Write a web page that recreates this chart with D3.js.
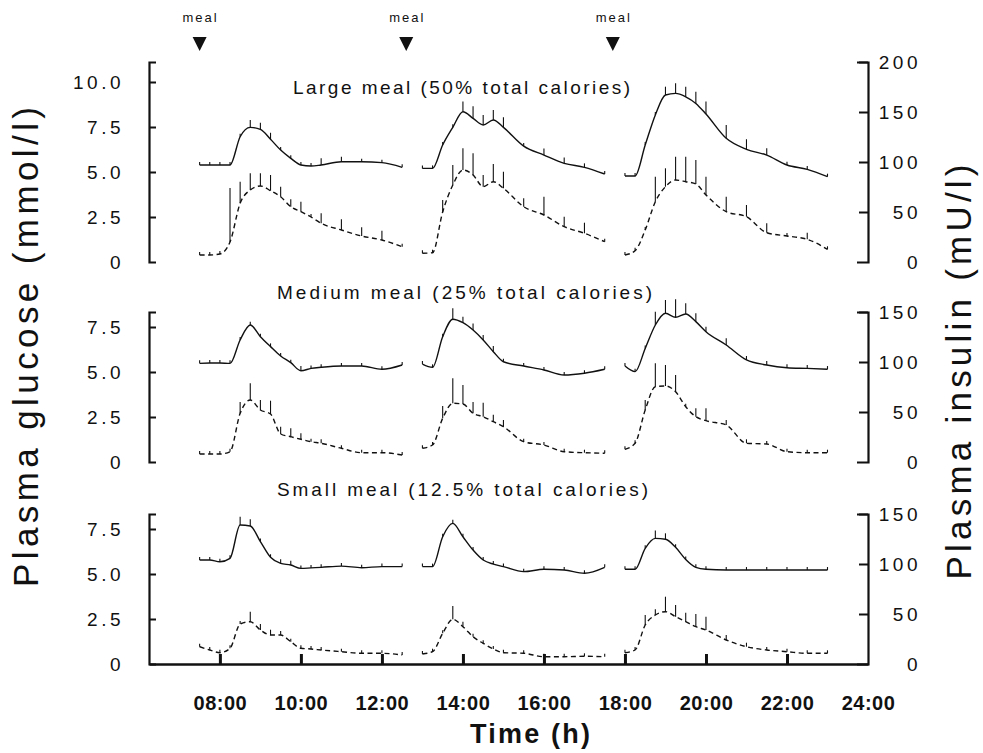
<!DOCTYPE html>
<html>
<head>
<meta charset="utf-8">
<script src="https://cdn.jsdelivr.net/npm/d3@7"></script>
<style>
  html, body { margin: 0; padding: 0; background: #fff; }
  svg { display: block; }
</style>
</head>
<body>
<svg id="chart" width="983" height="753"></svg>
<script>
// sampling times (h) of the three post-meal profiles
const times1 = [7.5, 7.75, 8, 8.25, 8.5, 8.75, 9, 9.25, 9.5, 9.75, 10, 10.25, 10.5, 11, 11.5, 12, 12.5];
const times2 = [13, 13.25, 13.5, 13.75, 14, 14.25, 14.5, 14.75, 15, 15.5, 16, 16.5, 17, 17.5];
const times3 = [18, 18.25, 18.5, 18.75, 19, 19.25, 19.5, 19.75, 20, 20.5, 21, 21.5, 22, 22.5, 23];

const mealTimes = [7.5, 12.6, 17.7];
const hourTicks = [8, 10, 12, 14, 16, 18, 20, 22, 24];

const panelTitles = [
  'Large meal (50% total calories)',
  'Medium meal (25% total calories)',
  'Small meal (12.5% total calories)'
];
const glucoseTicks = [[0, 2.5, 5, 7.5, 10], [0, 2.5, 5, 7.5], [0, 2.5, 5, 7.5]];
const insulinTicks = [[0, 50, 100, 150, 200], [0, 50, 100, 150], [0, 50, 100, 150]];

// plasma glucose (mmol/l), one array per meal, and the SEM bars (drawn upward)
const largeGlucose = [
  [5.39, 5.39, 5.39, 5.39, 6.96, 7.48, 7.37, 6.82, 6.22, 5.76, 5.39, 5.33, 5.39, 5.57, 5.57, 5.52, 5.26],
  [5.2, 5.2, 6.5, 7.48, 8.35, 7.98, 7.61, 7.89, 7.48, 6.44, 5.94, 5.48, 5.26, 4.89],
  [4.78, 4.78, 6.5, 8.17, 9.28, 9.37, 9.18, 8.81, 8.22, 6.87, 6.26, 5.94, 5.39, 5.15, 4.74]
];
const largeGlucoseSem = [
  [0, 0.05, 0.05, 0, 0.15, 0.41, 0.37, 0.36, 0.13, 0.09, 0.05, 0, 0.37, 0.28, 0.05, 0.05, 0],
  [0, 0, 0.1, 0.1, 0.56, 0.67, 0.56, 0.55, 0.56, 0.1, 0.37, 0.33, 0.22, 0],
  [0, 0, 0.1, 0.1, 0.46, 0.56, 0.56, 0.65, 0.69, 0.74, 0.56, 0.38, 0.18, 0.18, 0]
];
const mediumGlucose = [
  [5.48, 5.5, 5.5, 5.48, 6.78, 7.61, 6.96, 6.41, 5.89, 5.52, 5.07, 5.2, 5.26, 5.33, 5.33, 5.15, 5.39],
  [5.44, 5.26, 6.96, 7.93, 7.74, 7.33, 6.78, 6.13, 5.57, 5.33, 5.11, 4.83, 4.93, 5.15],
  [5.33, 5.02, 6.31, 7.61, 8.26, 8.04, 8.22, 7.8, 7.24, 6.5, 5.67, 5.39, 5.24, 5.2, 5.15]
];
const mediumGlucoseSem = [
  [0.05, 0.05, 0.05, 0, 0.1, 0.18, 0.05, 0.18, 0.11, 0.15, 0.26, 0.05, 0.13, 0.05, 0.05, 0, 0],
  [0, 0, 0.1, 0.61, 0.33, 0.37, 0.28, 0.31, 0, 0.05, 0.05, 0, 0.05, 0],
  [0, 0, 0.15, 0.74, 0.74, 1.0, 0.6, 0.46, 0.28, 0.37, 0.22, 0.22, 0.19, 0.19, 0.18]
];
const smallGlucose = [
  [5.78, 5.78, 5.68, 5.87, 7.72, 7.67, 6.8, 5.93, 5.59, 5.5, 5.31, 5.34, 5.37, 5.44, 5.35, 5.41, 5.41],
  [5.41, 5.41, 7.07, 7.81, 7.07, 6.33, 5.78, 5.55, 5.41, 5.13, 5.26, 5.22, 5.04, 5.37],
  [5.26, 5.26, 6.43, 6.98, 6.93, 6.48, 5.81, 5.37, 5.26, 5.22, 5.22, 5.22, 5.22, 5.22, 5.22]
];
const smallGlucoseSem = [
  [0, 0.05, 0.05, 0.05, 0.46, 0.37, 0.1, 0.1, 0.23, 0.24, 0, 0, 0.05, 0.05, 0.05, 0.05, 0],
  [0, 0, 0.1, 0.2, 0.05, 0.05, 0.05, 0, 0, 0.05, 0.05, 0.05, 0, 0],
  [0, 0, 0.15, 0.43, 0.33, 0.1, 0, 0, 0.05, 0.05, 0.05, 0.05, 0.05, 0.05, 0]
];

// plasma insulin (mU/l)
const largeInsulin = [
  [7, 7, 8, 20, 58.7, 72, 76, 71.3, 65.3, 55.3, 50.3, 45, 38.7, 32, 26, 22, 15.3],
  [8.7, 9.3, 50, 77, 92, 87, 75.3, 80.3, 73.7, 55.3, 47, 35.3, 28.7, 20.3],
  [7, 11.3, 32, 60.3, 75.3, 82, 80.3, 78, 67, 50.3, 45.3, 29.3, 26, 22.7, 12.7]
];
const largeInsulinSem = [
  [0, 0, 0, 54, 21.6, 16.7, 12.7, 15.7, 10, 7.4, 10, 0, 10, 10.7, 8.7, 9.3, 0],
  [0, 0, 12, 20, 21.7, 21.7, 11.7, 17.7, 16.6, 8.4, 18.3, 10, 10.6, 0],
  [0, 0, 0, 25, 18.4, 23.3, 25, 24, 18.3, 15, 11.7, 9.4, 0, 6.6, 0]
];
const mediumInsulin = [
  [8, 8, 8, 10.3, 48.7, 62, 52, 48, 28, 25.3, 22.7, 20.3, 18.7, 13.7, 9.3, 9.3, 7],
  [13.7, 17, 43.7, 58.7, 58, 48.7, 45.3, 40.3, 35.3, 20.3, 17, 10.3, 9.3, 8.7],
  [12.7, 18.7, 52, 75.3, 76, 70.3, 55.3, 45.3, 41.3, 37, 18.7, 18, 10.3, 9.3, 9.3]
];
const mediumInsulinSem = [
  [0, 0, 0, 0, 11.3, 16.7, 10, 13.3, 7.3, 8.4, 6, 0, 4, 0, 0, 0, 0],
  [0, 0, 12.3, 25, 19, 11.3, 14, 7, 6.7, 0, 2, 0, 0, 0],
  [0, 0, 10, 23.4, 21, 16.7, 0, 8.4, 12.4, 5, 4, 0, 0, 0, 0]
];
const smallInsulin = [
  [17.3, 14, 11.3, 15.7, 40, 42.3, 34, 29, 29, 22.3, 15.7, 15, 14, 12.3, 10.7, 10.7, 9],
  [10, 12.3, 30.7, 44.7, 37.3, 27.3, 20.7, 15, 11.3, 10.7, 7.3, 7.3, 7.7, 7.3],
  [11.3, 14, 39, 49, 52.3, 47.3, 42.3, 37.3, 34, 24, 17.3, 14, 12.3, 10.7, 10.7]
];
const smallInsulinSem = [
  [0, 0, 0, 0, 3, 10, 6, 5.3, 4, 0, 0, 0, 0, 0, 0, 2, 0],
  [0, 0, 0, 13.3, 5, 0, 0, 0, 0, 0, 2, 0, 0, 0],
  [0, 0, 10, 5.7, 15, 11.7, 9, 12.7, 13.3, 5, 4, 3, 0, 0, 0]
];

const segmentTimes = [times1, times2, times3];
const glucoseSets = [largeGlucose, mediumGlucose, smallGlucose];
const glucoseSemSets = [largeGlucoseSem, mediumGlucoseSem, smallGlucoseSem];
const insulinSets = [largeInsulin, mediumInsulin, smallInsulin];
const insulinSemSets = [largeInsulinSem, mediumInsulinSem, smallInsulinSem];

// layout
const panelBottoms = [262, 462, 664];
const pxPerInsulin = 1.0;   // px per mU/l
const pxPerGlucose = 18;    // px per mmol/l
const leftX = 149, rightX = 868;
const titleBox = [[461.5, 94, 337], [464.5, 299, 375], [462.5, 496, 371]];
const ink = '#111';
const labelFont = '"Liberation Sans", Arial, sans-serif';

const svg = d3.select('#chart');

const x = d3.scaleLinear().domain([6.25, 24]).range([leftX, rightX]);

const line = d3.line()
  .curve(d3.curveMonotoneX)
  .x(d => x(d.t))
  .y(d => d.y);

// one profile: error bars, small point ticks and the curve
function drawProfile(g, pts, yScale, dashed) {
  g.selectAll(null)
    .data(pts)
    .enter().append('line')
    .attr('x1', d => x(d.t)).attr('x2', d => x(d.t))
    .attr('y1', d => yScale(d.v))
    .attr('y2', d => Math.min(yScale(d.v + d.e), yScale(d.v) - 3))
    .attr('stroke', ink).attr('stroke-width', 1.1);
  const path = g.append('path')
    .attr('d', line(pts.map(d => ({ t: d.t, y: yScale(d.v) }))))
    .attr('fill', 'none').attr('stroke', ink).attr('stroke-width', 1.4);
  if (dashed) path.attr('stroke-dasharray', '5,3.5');
}

panelTitles.forEach((title, p) => {
  const bottom = panelBottoms[p];
  const insMax = d3.max(insulinTicks[p]);
  const height = insMax * pxPerInsulin;
  const yIns = d3.scaleLinear().domain([0, insMax]).range([bottom, bottom - height]);
  const yGlu = d3.scaleLinear().domain([0, height / pxPerGlucose]).range([bottom, bottom - height]);

  const g = svg.append('g').attr('class', 'panel');

  // left (glucose) bracket axis
  const leftAxis = d3.axisLeft(yGlu)
    .tickValues(glucoseTicks[p])
    .tickSizeInner(-7)
    .tickSizeOuter(-7)
    .tickPadding(25)
    .tickFormat(v => v === 0 ? '0' : d3.format('.1f')(v));
  const la = g.append('g').attr('transform', `translate(${leftX},0)`).call(leftAxis);

  // right (insulin) bracket axis
  const rightAxis = d3.axisRight(yIns)
    .tickValues(insulinTicks[p])
    .tickSizeInner(-9)
    .tickSizeOuter(-11)
    .tickPadding(53)
    .tickFormat(d3.format('d'));
  const ra = g.append('g').attr('transform', `translate(${rightX},0)`).call(rightAxis);
  ra.selectAll('.tick text').attr('text-anchor', 'end');

  [la, ra].forEach(a => {
    a.select('.domain').attr('stroke', ink).attr('stroke-width', 2.2).attr('fill', 'none');
    a.selectAll('.tick line').attr('stroke', ink).attr('stroke-width', 2);
    a.selectAll('.tick text')
      .attr('fill', ink)
      .attr('font-family', labelFont)
      .attr('font-size', 19)
      .attr('letter-spacing', '3.5px');
  });
  // the zero tick is the bracket foot
  la.selectAll('.tick').filter(d => d === 0).select('line').remove();
  ra.selectAll('.tick').filter(d => d === 0).select('line').remove();

  // panel title
  g.append('text')
    .attr('x', titleBox[p][0])
    .attr('y', titleBox[p][1])
    .attr('text-anchor', 'middle')
    .attr('font-family', labelFont)
    .attr('font-size', 19)
    .attr('textLength', titleBox[p][2])
    .attr('lengthAdjust', 'spacing')
    .attr('fill', ink)
    .text(title);

  segmentTimes.forEach((times, s) => {
    const glu = times.map((t, i) => ({ t, v: glucoseSets[p][s][i], e: glucoseSemSets[p][s][i] }));
    const ins = times.map((t, i) => ({ t, v: insulinSets[p][s][i], e: insulinSemSets[p][s][i] }));
    drawProfile(g, glu, yGlu, false);
    drawProfile(g, ins, yIns, true);
  });
});

// time axis under the last panel
const xAxis = d3.axisBottom(x)
  .tickValues(hourTicks)
  .tickSizeInner(-10)
  .tickSizeOuter(0)
  .tickPadding(32)
  .tickFormat(h => (h < 10 ? '0' : '') + h + ':00');
const xa = svg.append('g').attr('transform', `translate(0,${panelBottoms[2]})`).call(xAxis);
xa.select('.domain').attr('stroke', ink).attr('stroke-width', 2.6);
xa.selectAll('.tick line').attr('stroke', ink).attr('stroke-width', 3);
xa.selectAll('.tick').filter(d => d === 24).select('line').remove();
xa.selectAll('.tick text')
  .attr('fill', ink)
  .attr('font-family', labelFont)
  .attr('font-weight', 'bold')
  .attr('font-size', 20)
  .attr('letter-spacing', '0.5px');

svg.append('text')
  .attr('x', 530).attr('y', 743)
  .attr('text-anchor', 'middle')
  .attr('font-family', labelFont)
  .attr('font-weight', 'bold')
  .attr('font-size', 27)
  .attr('textLength', 120)
  .attr('lengthAdjust', 'spacing')
  .attr('fill', ink)
  .text('Time (h)');

// meal markers
const meals = svg.append('g');
meals.selectAll('path')
  .data(mealTimes)
  .enter().append('path')
  .attr('d', t => `M${x(t) - 7},37 L${x(t) + 7},37 L${x(t)},51 Z`)
  .attr('fill', ink);
meals.selectAll('text')
  .data(mealTimes)
  .enter().append('text')
  .attr('x', t => x(t) + 1)
  .attr('y', 22)
  .attr('text-anchor', 'middle')
  .attr('font-family', labelFont)
  .attr('font-size', 13)
  .attr('letter-spacing', '2px')
  .attr('fill', ink)
  .text('meal');

// axis titles
svg.append('text')
  .attr('transform', 'translate(38,347) rotate(-90)')
  .attr('text-anchor', 'middle')
  .attr('font-family', labelFont)
  .attr('font-size', 35)
  .attr('textLength', 480)
  .attr('lengthAdjust', 'spacing')
  .attr('fill', ink)
  .text('Plasma glucose  (mmol/l)');
svg.append('text')
  .attr('transform', 'translate(971,372) rotate(-90)')
  .attr('text-anchor', 'middle')
  .attr('font-family', labelFont)
  .attr('font-size', 35)
  .attr('textLength', 415)
  .attr('lengthAdjust', 'spacing')
  .attr('fill', ink)
  .text('Plasma insulin  (mU/l)');
</script>
</body>
</html>
